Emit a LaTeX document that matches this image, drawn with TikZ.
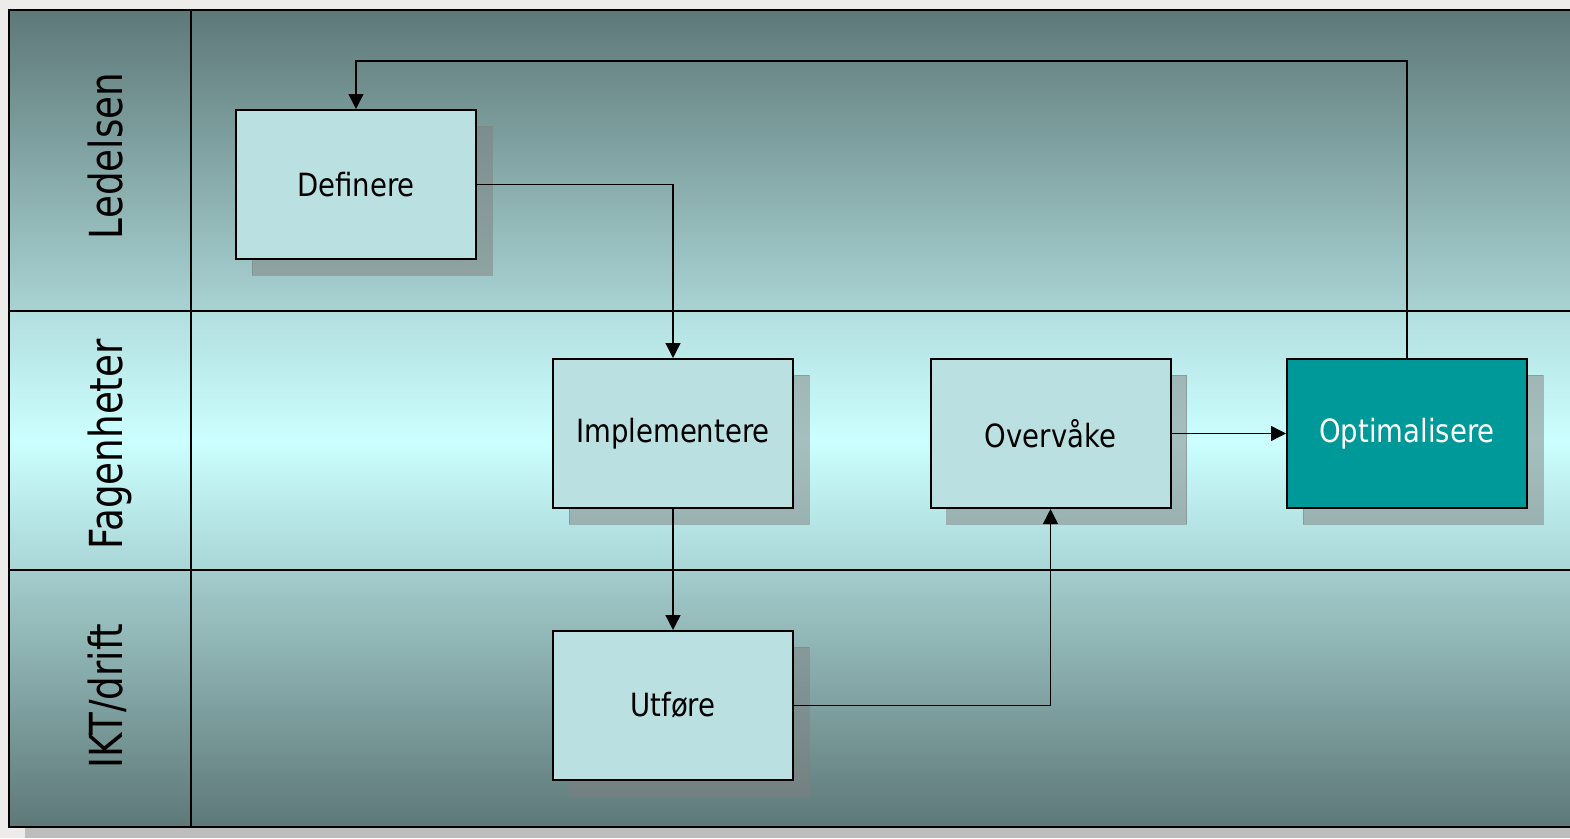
\documentclass[tikz,border=0pt]{standalone}
\usepackage{fontspec}
\usetikzlibrary{arrows.meta,shadows}
\newfontfamily\boxfont[FakeStretch=0.86]{DejaVu Sans}
\newfontfamily\lanefont[FakeStretch=0.82]{DejaVu Sans}
\definecolor{pagebg}{HTML}{EEECEA}
\definecolor{frameshadow}{HTML}{BDBDBD}
\definecolor{darklane}{HTML}{5E7878}
\definecolor{lightlane}{HTML}{A9D3D3}
\definecolor{midtop}{HTML}{B2DEDE}
\definecolor{midglow}{HTML}{CCFFFF}
\definecolor{midbot}{HTML}{A9D5D5}
\definecolor{lowtop}{HTML}{A4CDCD}
\definecolor{boxfill}{HTML}{BAE0E2}
\definecolor{hotteal}{HTML}{009999}
\tikzset{
  stepbox/.style={draw=black, line width=2pt, fill=boxfill, minimum width=240pt,
    minimum height=149pt, inner sep=0pt, font=\boxfont\fontsize{32}{38}\selectfont,
    drop shadow={shadow xshift=16pt, shadow yshift=-16pt, fill=gray, draw=gray,
      line width=1pt, opacity=0.5}},
  hotbox/.style={stepbox, fill=hotteal, text=white},
  lanelabel/.style={rotate=90, anchor=base, inner sep=0pt,
    font=\lanefont\fontsize{45.5}{54}\selectfont},
  lanerule/.style={draw=black, line width=2pt},
  flow/.style={draw=black, line width=1.3pt, -{Triangle[length=15pt,width=15pt]}},
}
\begin{document}
\begin{tikzpicture}[x=1pt,y=-1pt]
\useasboundingbox (0,0) rectangle (1570,838);
\clip (0,0) rectangle (1570,838);
\fill[pagebg] (0,0) rectangle (1570,838);
\fill[frameshadow] (25,827) rectangle (1580,838);
% lanes
\shade[top color=darklane, bottom color=lightlane] (9,10) rectangle (1580,311);
\shade[top color=midtop, bottom color=midbot, middle color=midglow] (9,311) rectangle (1580,570);
\shade[top color=lowtop, bottom color=darklane] (9,570) rectangle (1580,827);
\draw[lanerule] (9,10) rectangle (1580,827);
\draw[lanerule] (9,311) -- (1580,311);
\draw[lanerule] (9,570) -- (1580,570);
\draw[lanerule] (191,10) -- (191,827);
% lane labels
\node[lanelabel] (l1) at (122,156) {Ledelsen};
\node[lanelabel] (l2) at (122,444.5) {Fagenheter};
\node[lanelabel] (l3) at (122,696) {IKT/drift};
% steps
\node[stepbox] (def) at (356,184.5) {Definere};
\node[stepbox] (imp) at (673,433.5) {Implementere};
\node[stepbox] (ovr) at (1050.5,433.5) {Overvåke};
\node[hotbox]  (opt) at (1407,433.5) {Optimalisere};
\node[stepbox] (utf) at (673,705.5) {Utføre};
% connectors
\coordinate (loop) at (900,61);
\draw[flow] (def.east) -| (imp.north);
\draw[flow] (imp.south) -- (utf.north);
\draw[flow] (utf.east) -| (ovr.south);
\draw[flow] (ovr.east) -- (opt.west);
\draw[flow] (opt.north) |- (loop) -| (def.north);
\end{tikzpicture}
\end{document}
